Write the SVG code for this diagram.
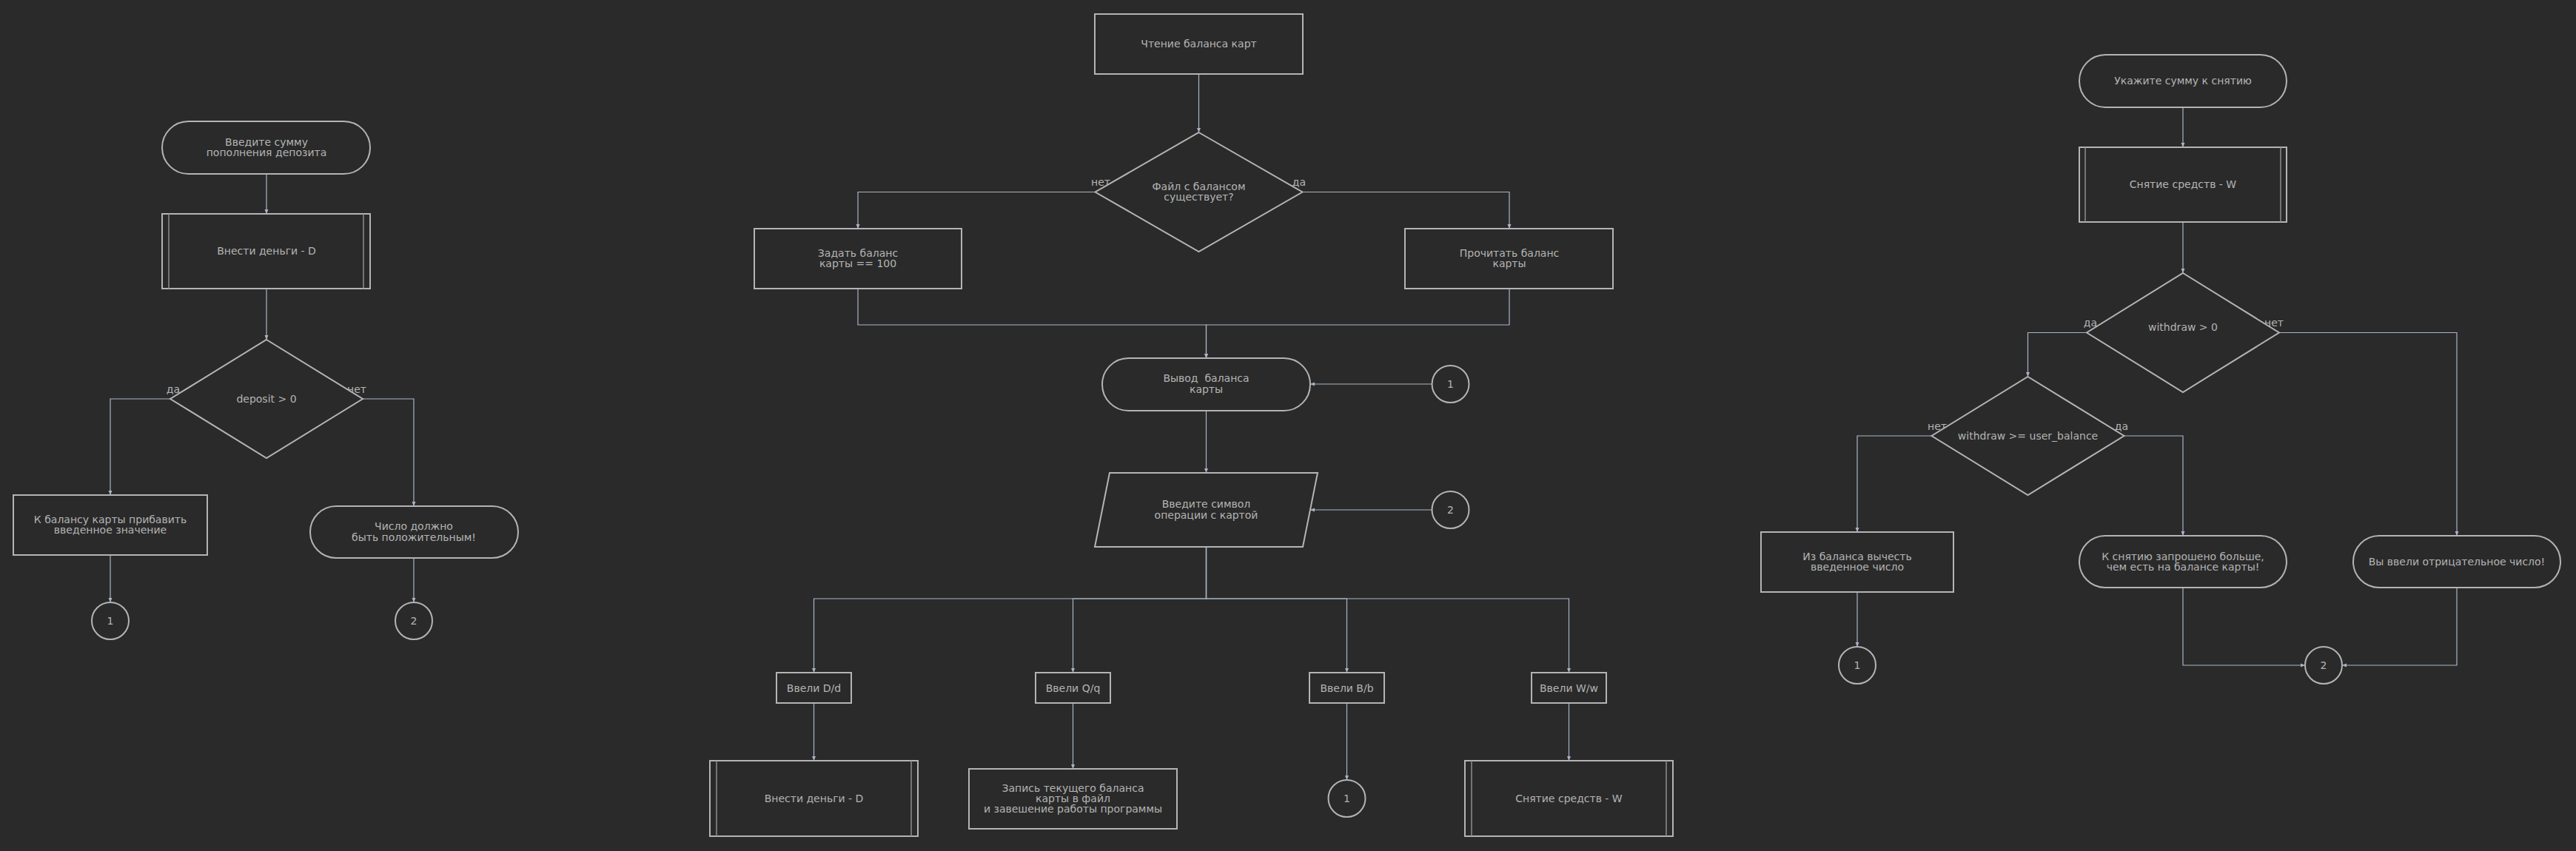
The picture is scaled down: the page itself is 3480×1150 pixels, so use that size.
<svg xmlns="http://www.w3.org/2000/svg" width="3480" height="1150" viewBox="0 0 3480 1150">
<defs>
<style>
.shape{fill:#2a2a2a;stroke:#b4b4b4;stroke-width:2}
.inner{stroke:#8e8e8e;stroke-width:1.5;fill:none}
.t{font-family:"DejaVu Sans","Noto Sans",sans-serif;font-size:14px;fill:#b4b4b4;text-anchor:middle}
.edge{fill:none;stroke:#a9b5c7;stroke-width:1.2;marker-end:url(#arr)}
.line{fill:none;stroke:#a9b5c7;stroke-width:1.2}
</style>
<marker id="arr" markerUnits="userSpaceOnUse" markerWidth="6" markerHeight="6" refX="6" refY="3" orient="auto">
<path d="M0,0.5 L6,3 L0,5.5 z" fill="#a9b5c7"/>
</marker>
</defs>
<rect x="0" y="0" width="3480" height="1150" fill="#2a2a2a"/>

<g id="connectors">
<!-- left -->
<path class="edge" d="M360,235 L360,289"/>
<path class="edge" d="M360,390 L360,459"/>
<path class="edge" d="M230,539 L149,539 L149,669"/>
<path class="edge" d="M490,539 L559,539 L559,684"/>
<path class="edge" d="M149,750 L149,814"/>
<path class="edge" d="M559,754 L559,814"/>
<!-- center -->
<path class="edge" d="M1619.5,100 L1619.5,179"/>
<path class="edge" d="M1479.5,259.5 L1159,259.5 L1159,309"/>
<path class="edge" d="M1759.5,259.5 L2039,259.5 L2039,309"/>
<path class="edge" d="M1159,390 L1159,439 L1629.5,439 L1629.5,484"/>
<path class="edge" d="M2039,390 L2039,439 L1629.5,439 L1629.5,484"/>
<path class="edge" d="M1934.5,519 L1770,519"/>
<path class="edge" d="M1629.5,555 L1629.5,639"/>
<path class="edge" d="M1934.5,689 L1770,689"/>
<path class="edge" d="M1629.5,739 L1629.5,809 L1099.5,809 L1099.5,909"/>
<path class="edge" d="M1629.5,739 L1629.5,809 L1449.5,809 L1449.5,909"/>
<path class="edge" d="M1629.5,739 L1629.5,809 L1819.5,809 L1819.5,909"/>
<path class="edge" d="M1629.5,739 L1629.5,809 L2119.5,809 L2119.5,909"/>
<path class="edge" d="M1099.5,950 L1099.5,1028"/>
<path class="edge" d="M1449.5,950 L1449.5,1039"/>
<path class="edge" d="M1819.5,950 L1819.5,1054"/>
<path class="edge" d="M2119.5,950 L2119.5,1028"/>
<!-- right -->
<path class="edge" d="M2949,145 L2949,199"/>
<path class="edge" d="M2949,300 L2949,369"/>
<path class="edge" d="M2819,449.5 L2739.5,449.5 L2739.5,509"/>
<path class="edge" d="M3079,449.5 L3319,449.5 L3319,724"/>
<path class="edge" d="M2609.5,589 L2509,589 L2509,719"/>
<path class="edge" d="M2869.5,589 L2949,589 L2949,724"/>
<path class="edge" d="M2509,800 L2509,874"/>
<path class="edge" d="M2949,794 L2949,899 L3114,899"/>
<path class="edge" d="M3319,794 L3319,899 L3164,899"/>
<!-- branch labels -->
<text class="t" x="234" y="530.5">да</text>
<text class="t" x="482" y="530.5">нет</text>
<text class="t" x="1487" y="250.5">нет</text>
<text class="t" x="1755" y="250.5">да</text>
<text class="t" x="2824" y="440.5">да</text>
<text class="t" x="3072" y="440.5">нет</text>
<text class="t" x="2617" y="580.5">нет</text>
<text class="t" x="2866" y="580.5">да</text>
</g>

<!-- LEFT: deposit -->
<g id="dep_start">
<rect class="shape" x="219" y="164" width="281" height="71" rx="35.5"/>
<text class="t" x="360" y="196.8">Введите сумму</text>
<text class="t" x="360" y="211.2">пополнения депозита</text>
</g>
<g id="dep_sub">
<rect class="shape" x="219" y="289" width="281" height="101"/>
<line class="inner" x1="228" y1="289" x2="228" y2="390"/>
<line class="inner" x1="491" y1="289" x2="491" y2="390"/>
<text class="t" x="360" y="344">Внести деньги - D</text>
</g>
<g id="dep_dec">
<polygon class="shape" points="360,459 490,539 360,619 230,539"/>
<text class="t" x="360" y="543.5">deposit &gt; 0</text>
</g>
<g id="dep_add">
<rect class="shape" x="18" y="669" width="262" height="81"/>
<text class="t" x="149" y="706.8">К балансу карты прибавить</text>
<text class="t" x="149" y="721.2">введенное значение</text>
</g>
<g id="dep_neg">
<rect class="shape" x="419" y="684" width="281" height="70" rx="35"/>
<text class="t" x="559" y="716.3">Число должно</text>
<text class="t" x="559" y="730.7">быть положительным!</text>
</g>
<g id="dep_c1">
<circle class="shape" cx="149" cy="839" r="25"/>
<text class="t" x="149" y="844">1</text>
</g>
<g id="dep_c2">
<circle class="shape" cx="559" cy="839" r="25"/>
<text class="t" x="559" y="844">2</text>
</g>

<!-- CENTER: main -->
<g id="read">
<rect class="shape" x="1479" y="19" width="281" height="81"/>
<text class="t" x="1619.5" y="64">Чтение баланса карт</text>
</g>
<g id="file_dec">
<polygon class="shape" points="1619.5,179 1759.5,259.5 1619.5,340 1479.5,259.5"/>
<text class="t" x="1619.5" y="257">Файл с балансом</text>
<text class="t" x="1619.5" y="271.4">существует?</text>
</g>
<g id="set100">
<rect class="shape" x="1019" y="309" width="280" height="81"/>
<text class="t" x="1159" y="346.8">Задать баланс</text>
<text class="t" x="1159" y="361.2">карты == 100</text>
</g>
<g id="readbal">
<rect class="shape" x="1898" y="309" width="281" height="81"/>
<text class="t" x="2039" y="346.8">Прочитать баланс</text>
<text class="t" x="2039" y="361.2">карты</text>
</g>
<g id="show">
<rect class="shape" x="1489" y="484" width="281" height="71" rx="35.5"/>
<text class="t" x="1629.5" y="516.3" xml:space="preserve">Вывод  баланса</text>
<text class="t" x="1629.5" y="530.7">карты</text>
</g>
<g id="c1_show">
<circle class="shape" cx="1959.5" cy="519" r="25"/>
<text class="t" x="1959.5" y="524">1</text>
</g>
<g id="input">
<polygon class="shape" points="1499,639 1780,639 1760,739 1479,739"/>
<text class="t" x="1629.5" y="686.3">Введите символ</text>
<text class="t" x="1629.5" y="700.7">операции с картой</text>
</g>
<g id="c2_input">
<circle class="shape" cx="1959.5" cy="689" r="25"/>
<text class="t" x="1959.5" y="694">2</text>
</g>
<g id="opt_d">
<rect class="shape" x="1049" y="909" width="101" height="41"/>
<text class="t" x="1099.5" y="934.5">Ввели D/d</text>
</g>
<g id="opt_q">
<rect class="shape" x="1399" y="909" width="101" height="41"/>
<text class="t" x="1449.5" y="934.5">Ввели Q/q</text>
</g>
<g id="opt_b">
<rect class="shape" x="1769" y="909" width="101" height="41"/>
<text class="t" x="1819.5" y="934.5">Ввели B/b</text>
</g>
<g id="opt_w">
<rect class="shape" x="2069" y="909" width="101" height="41"/>
<text class="t" x="2119.5" y="934.5">Ввели W/w</text>
</g>
<g id="d_sub">
<rect class="shape" x="959" y="1028" width="281" height="102"/>
<line class="inner" x1="968" y1="1028" x2="968" y2="1130"/>
<line class="inner" x1="1231" y1="1028" x2="1231" y2="1130"/>
<text class="t" x="1099.5" y="1083.5">Внести деньги - D</text>
</g>
<g id="save">
<rect class="shape" x="1309" y="1039" width="281" height="81"/>
<text class="t" x="1449.5" y="1070">Запись текущего баланса</text>
<text class="t" x="1449.5" y="1084">карты в файл</text>
<text class="t" x="1449.5" y="1098">и завешение работы программы</text>
</g>
<g id="c1_b">
<circle class="shape" cx="1819.5" cy="1079" r="25"/>
<text class="t" x="1819.5" y="1084">1</text>
</g>
<g id="w_sub">
<rect class="shape" x="1979" y="1028" width="281" height="102"/>
<line class="inner" x1="1988" y1="1028" x2="1988" y2="1130"/>
<line class="inner" x1="2251" y1="1028" x2="2251" y2="1130"/>
<text class="t" x="2119.5" y="1083.5">Снятие средств - W</text>
</g>

<!-- RIGHT: withdraw -->
<g id="w_start">
<rect class="shape" x="2809" y="74" width="280" height="71" rx="35.5"/>
<text class="t" x="2949" y="114">Укажите сумму к снятию</text>
</g>
<g id="w_sub2">
<rect class="shape" x="2809" y="199" width="280" height="101"/>
<line class="inner" x1="2817" y1="199" x2="2817" y2="300"/>
<line class="inner" x1="3081" y1="199" x2="3081" y2="300"/>
<text class="t" x="2949" y="254">Снятие средств - W</text>
</g>
<g id="w_dec1">
<polygon class="shape" points="2949,369 3079,449.5 2949,530 2819,449.5"/>
<text class="t" x="2949" y="446.5">withdraw &gt; 0</text>
</g>
<g id="w_dec2">
<polygon class="shape" points="2739.5,509 2869.5,589 2739.5,669 2609.5,589"/>
<text class="t" x="2739.5" y="593.5">withdraw &gt;= user_balance</text>
</g>
<g id="w_subtract">
<rect class="shape" x="2379" y="719" width="260" height="81"/>
<text class="t" x="2509" y="757">Из баланса вычесть</text>
<text class="t" x="2509" y="771.4">введенное число</text>
</g>
<g id="w_more">
<rect class="shape" x="2809" y="724" width="280" height="70" rx="35"/>
<text class="t" x="2949" y="757">К снятию запрошено больше,</text>
<text class="t" x="2949" y="771.4">чем есть на балансе карты!</text>
</g>
<g id="w_neg">
<rect class="shape" x="3179" y="724" width="280" height="70" rx="35"/>
<text class="t" x="3319" y="763.8">Вы ввели отрицательное число!</text>
</g>
<g id="w_c1">
<circle class="shape" cx="2509" cy="899" r="25"/>
<text class="t" x="2509" y="904">1</text>
</g>
<g id="w_c2">
<circle class="shape" cx="3139" cy="899" r="25"/>
<text class="t" x="3139" y="904">2</text>
</g>
</svg>
